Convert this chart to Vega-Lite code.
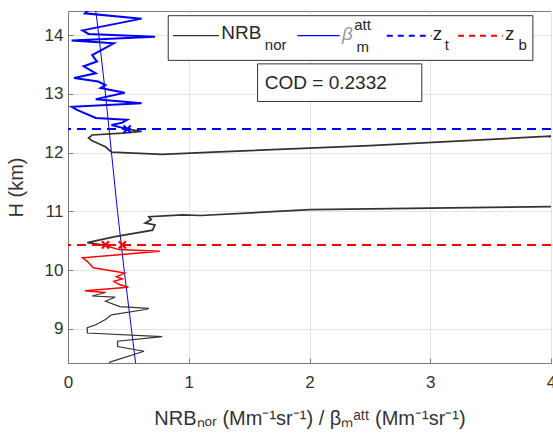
{
  "$schema": "https://vega.github.io/schema/vega-lite/v6.json",
  "width": 483,
  "height": 352,
  "autosize": {"type": "none"},
  "padding": {"left": 68, "top": 11, "right": 2, "bottom": 80},
  "background": "white",
  "config": {
    "font": "Liberation Sans",
    "view": {"stroke": "#7a7a7a", "strokeWidth": 1},
    "axis": {
      "domainColor": "#7a7a7a",
      "tickColor": "#7a7a7a",
      "gridColor": "#e3e3e3",
      "labelColor": "#333333",
      "titleColor": "#333333",
      "labelFont": "Liberation Sans",
      "titleFont": "Liberation Sans",
      "labelFontSize": 17,
      "titleFontSize": 20,
      "titleFontWeight": "normal",
      "tickSize": -5,
      "labelFlush": false
    }
  },
  "datasets": {
    "nrb": [
      {"i": 1, "x": 0.34, "y": 8.43, "seg": "lo"},
      {"i": 2, "x": 0.63, "y": 8.62, "seg": "lo"},
      {"i": 3, "x": 0.41, "y": 8.70, "seg": "lo"},
      {"i": 4, "x": 0.41, "y": 8.79, "seg": "lo"},
      {"i": 5, "x": 0.78, "y": 8.87, "seg": "lo"},
      {"i": 6, "x": 0.16, "y": 8.93, "seg": "lo"},
      {"i": 7, "x": 0.16, "y": 9.02, "seg": "lo"},
      {"i": 8, "x": 0.23, "y": 9.07, "seg": "lo"},
      {"i": 9, "x": 0.31, "y": 9.16, "seg": "lo"},
      {"i": 10, "x": 0.36, "y": 9.24, "seg": "lo"},
      {"i": 11, "x": 0.64, "y": 9.33, "seg": "lo"},
      {"i": 12, "x": 0.67, "y": 9.35, "seg": "lo"},
      {"i": 13, "x": 0.43, "y": 9.38, "seg": "lo"},
      {"i": 14, "x": 0.31, "y": 9.47, "seg": "lo"},
      {"i": 15, "x": 0.39, "y": 9.54, "seg": "lo"},
      {"i": 16, "x": 0.20, "y": 9.56, "seg": "lo"},
      {"i": 17, "x": 0.31, "y": 9.62, "seg": "lo"},
      {"i": 17, "x": 0.31, "y": 9.62, "seg": "red"},
      {"i": 18, "x": 0.14, "y": 9.65, "seg": "red"},
      {"i": 19, "x": 0.50, "y": 9.71, "seg": "red"},
      {"i": 20, "x": 0.42, "y": 9.76, "seg": "red"},
      {"i": 21, "x": 0.38, "y": 9.81, "seg": "red"},
      {"i": 22, "x": 0.45, "y": 9.85, "seg": "red"},
      {"i": 23, "x": 0.40, "y": 9.89, "seg": "red"},
      {"i": 24, "x": 0.47, "y": 9.95, "seg": "red"},
      {"i": 25, "x": 0.21, "y": 10.04, "seg": "red"},
      {"i": 26, "x": 0.16, "y": 10.15, "seg": "red"},
      {"i": 27, "x": 0.12, "y": 10.21, "seg": "red"},
      {"i": 28, "x": 0.76, "y": 10.32, "seg": "red"},
      {"i": 29, "x": 0.42, "y": 10.35, "seg": "red"},
      {"i": 30, "x": 0.31, "y": 10.42, "seg": "red"},
      {"i": 30, "x": 0.31, "y": 10.42, "seg": "mid"},
      {"i": 31, "x": 0.16, "y": 10.47, "seg": "mid"},
      {"i": 32, "x": 0.39, "y": 10.57, "seg": "mid"},
      {"i": 33, "x": 0.70, "y": 10.68, "seg": "mid"},
      {"i": 34, "x": 0.72, "y": 10.77, "seg": "mid"},
      {"i": 35, "x": 0.64, "y": 10.80, "seg": "mid"},
      {"i": 36, "x": 0.69, "y": 10.86, "seg": "mid"},
      {"i": 37, "x": 0.67, "y": 10.91, "seg": "mid"},
      {"i": 38, "x": 0.95, "y": 10.94, "seg": "mid"},
      {"i": 39, "x": 1.10, "y": 10.93, "seg": "mid"},
      {"i": 40, "x": 2.0, "y": 11.03, "seg": "mid"},
      {"i": 41, "x": 4.0, "y": 11.08, "seg": "mid"},
      {"i": 42, "x": 7.0, "y": 11.2, "seg": "mid"},
      {"i": 43, "x": 7.0, "y": 12.2, "seg": "mid"},
      {"i": 44, "x": 4.0, "y": 12.28, "seg": "mid"},
      {"i": 45, "x": 2.5, "y": 12.12, "seg": "mid"},
      {"i": 46, "x": 1.2, "y": 12.01, "seg": "mid"},
      {"i": 47, "x": 0.78, "y": 11.97, "seg": "mid"},
      {"i": 48, "x": 0.36, "y": 12.01, "seg": "mid"},
      {"i": 49, "x": 0.31, "y": 12.10, "seg": "mid"},
      {"i": 50, "x": 0.20, "y": 12.20, "seg": "mid"},
      {"i": 51, "x": 0.17, "y": 12.25, "seg": "mid"},
      {"i": 52, "x": 0.20, "y": 12.30, "seg": "mid"},
      {"i": 53, "x": 0.45, "y": 12.33, "seg": "mid"},
      {"i": 54, "x": 0.61, "y": 12.36, "seg": "mid"},
      {"i": 55, "x": 0.49, "y": 12.40, "seg": "mid"},
      {"i": 55, "x": 0.49, "y": 12.40, "seg": "blue"},
      {"i": 56, "x": 0.36, "y": 12.47, "seg": "blue"},
      {"i": 57, "x": 0.45, "y": 12.51, "seg": "blue"},
      {"i": 58, "x": 0.49, "y": 12.56, "seg": "blue"},
      {"i": 59, "x": 0.23, "y": 12.59, "seg": "blue"},
      {"i": 60, "x": 0.07, "y": 12.73, "seg": "blue"},
      {"i": 61, "x": 0.03, "y": 12.78, "seg": "blue"},
      {"i": 62, "x": 0.61, "y": 12.84, "seg": "blue"},
      {"i": 63, "x": 0.23, "y": 12.91, "seg": "blue"},
      {"i": 64, "x": 0.47, "y": 13.02, "seg": "blue"},
      {"i": 65, "x": 0.27, "y": 13.10, "seg": "blue"},
      {"i": 66, "x": 0.31, "y": 13.15, "seg": "blue"},
      {"i": 67, "x": 0.25, "y": 13.21, "seg": "blue"},
      {"i": 68, "x": 0.05, "y": 13.27, "seg": "blue"},
      {"i": 69, "x": 0.23, "y": 13.35, "seg": "blue"},
      {"i": 70, "x": 0.13, "y": 13.47, "seg": "blue"},
      {"i": 71, "x": 0.24, "y": 13.55, "seg": "blue"},
      {"i": 72, "x": 0.20, "y": 13.66, "seg": "blue"},
      {"i": 73, "x": 0.28, "y": 13.75, "seg": "blue"},
      {"i": 74, "x": 0.38, "y": 13.86, "seg": "blue"},
      {"i": 75, "x": 0.03, "y": 13.91, "seg": "blue"},
      {"i": 76, "x": 0.72, "y": 13.97, "seg": "blue"},
      {"i": 77, "x": 0.17, "y": 14.02, "seg": "blue"},
      {"i": 78, "x": 0.12, "y": 14.08, "seg": "blue"},
      {"i": 79, "x": 0.61, "y": 14.28, "seg": "blue"},
      {"i": 80, "x": 0.14, "y": 14.37, "seg": "blue"},
      {"i": 81, "x": 0.18, "y": 14.45, "seg": "blue"}
    ],
    "beta": [
      {"x": 0.56, "y": 8.42},
      {"x": 0.525, "y": 9.0},
      {"x": 0.465, "y": 10.0},
      {"x": 0.41, "y": 11.0},
      {"x": 0.36, "y": 12.0},
      {"x": 0.31, "y": 13.0},
      {"x": 0.255, "y": 14.0},
      {"x": 0.23, "y": 14.41}
    ],
    "levels": [
      {"y": 12.40, "k": "zt"},
      {"y": 10.43, "k": "zb"}
    ],
    "marks": [
      {"x": 0.49, "y": 12.40, "k": "zt"},
      {"x": 0.31, "y": 10.43, "k": "zb"},
      {"x": 0.45, "y": 10.43, "k": "zb"}
    ],
    "boxes": [
      {"x": 0.83, "x2": 3.85, "y": 13.57, "y2": 14.33},
      {"x": 1.57, "x2": 2.93, "y": 12.87, "y2": 13.51}
    ],
    "samples": [
      {"x": 0.87, "x2": 1.25, "y": 13.99, "k": "nrb"},
      {"x": 1.90, "x2": 2.25, "y": 13.99, "k": "beta"},
      {"x": 2.64, "x2": 3.01, "y": 13.99, "k": "zt"},
      {"x": 3.23, "x2": 3.60, "y": 13.99, "k": "zb"}
    ],
    "bigtext": [
      {"x": 1.27, "y": 14.03, "t": "NRB"},
      {"x": 3.02, "y": 14.02, "t": "z"},
      {"x": 3.62, "y": 14.02, "t": "z"},
      {"x": 1.63, "y": 13.19, "t": "COD = 0.2332"}
    ],
    "smalltext": [
      {"x": 1.63, "y": 13.835, "t": "nor"},
      {"x": 2.37, "y": 14.18, "t": "att"},
      {"x": 2.39, "y": 13.80, "t": "m"},
      {"x": 3.12, "y": 13.83, "t": "t"},
      {"x": 3.73, "y": 13.83, "t": "b"}
    ],
    "greek": [
      {"x": 2.27, "y": 14.02, "t": "β"}
    ]
  },
  "layer": [
    {
      "data": {"name": "beta"},
      "mark": {"type": "line", "color": "#0000ff", "strokeWidth": 1, "clip": true},
      "encoding": {
        "x": {"field": "x", "type": "quantitative", "scale": {"domain": [0, 4], "nice": false}, "axis": {"values": [0, 1, 2, 3, 4], "format": "d", "title": "NRBₙₒᵣ (Mm⁻¹sr⁻¹) / βₘᵃᵗᵗ (Mm⁻¹sr⁻¹)", "grid": true, "labelPadding": 16, "titlePadding": 18}},
        "y": {"field": "y", "type": "quantitative", "scale": {"domain": [8.42, 14.41], "nice": false, "zero": false}, "axis": {"values": [9, 10, 11, 12, 13, 14], "format": "d", "title": "H (km)", "grid": true, "labelPadding": 10, "titlePadding": 18}},
        "order": {"field": "y", "type": "quantitative"}
      }
    },
    {
      "data": {"name": "nrb"},
      "mark": {"type": "line", "clip": true},
      "encoding": {
        "x": {"field": "x", "type": "quantitative"},
        "y": {"field": "y", "type": "quantitative"},
        "order": {"field": "i", "type": "quantitative"},
        "detail": {"field": "seg", "type": "nominal"},
        "color": {"field": "seg", "type": "nominal", "scale": {"domain": ["lo", "red", "mid", "blue", "nrb", "beta", "zt", "zb"], "range": ["#333333", "#ff0000", "#333333", "#0000ff", "#333333", "#0000ff", "#0000ff", "#ff0000"]}, "legend": null},
        "strokeWidth": {"field": "seg", "type": "nominal", "scale": {"domain": ["lo", "red", "mid", "blue"], "range": [1.2, 2, 1.2, 2]}, "legend": null}
      }
    },
    {
      "data": {"name": "levels"},
      "mark": {"type": "rule", "strokeWidth": 2, "strokeDash": [9, 6]},
      "encoding": {
        "y": {"field": "y", "type": "quantitative"},
        "color": {"field": "k", "type": "nominal", "scale": {"domain": ["lo", "red", "mid", "blue", "nrb", "beta", "zt", "zb"], "range": ["#333333", "#ff0000", "#333333", "#0000ff", "#333333", "#0000ff", "#0000ff", "#ff0000"]}, "legend": null}
      }
    },
    {
      "data": {"name": "marks"},
      "mark": {"type": "point", "shape": "M-1,-1L1,1M-1,1L1,-1", "filled": false, "size": 50, "strokeWidth": 2.2, "opacity": 1},
      "encoding": {
        "x": {"field": "x", "type": "quantitative"},
        "y": {"field": "y", "type": "quantitative"},
        "color": {"field": "k", "type": "nominal", "scale": {"domain": ["lo", "red", "mid", "blue", "nrb", "beta", "zt", "zb"], "range": ["#333333", "#ff0000", "#333333", "#0000ff", "#333333", "#0000ff", "#0000ff", "#ff0000"]}, "legend": null}
      }
    },
    {
      "data": {"name": "boxes"},
      "mark": {"type": "rect", "fill": "white", "stroke": "#333333", "strokeWidth": 1},
      "encoding": {
        "x": {"field": "x", "type": "quantitative"},
        "x2": {"field": "x2"},
        "y": {"field": "y", "type": "quantitative"},
        "y2": {"field": "y2"}
      }
    },
    {
      "data": {"name": "samples"},
      "transform": [{"filter": "datum.k == 'nrb' || datum.k == 'beta'"}],
      "mark": {"type": "rule", "strokeWidth": 1.2},
      "encoding": {
        "x": {"field": "x", "type": "quantitative"},
        "x2": {"field": "x2"},
        "y": {"field": "y", "type": "quantitative"},
        "color": {"field": "k", "type": "nominal", "scale": {"domain": ["lo", "red", "mid", "blue", "nrb", "beta", "zt", "zb"], "range": ["#333333", "#ff0000", "#333333", "#0000ff", "#333333", "#0000ff", "#0000ff", "#ff0000"]}, "legend": null}
      }
    },
    {
      "data": {"name": "samples"},
      "transform": [{"filter": "datum.k == 'zt' || datum.k == 'zb'"}],
      "mark": {"type": "rule", "strokeWidth": 2, "strokeDash": [6, 5]},
      "encoding": {
        "x": {"field": "x", "type": "quantitative"},
        "x2": {"field": "x2"},
        "y": {"field": "y", "type": "quantitative"},
        "color": {"field": "k", "type": "nominal", "scale": {"domain": ["lo", "red", "mid", "blue", "nrb", "beta", "zt", "zb"], "range": ["#333333", "#ff0000", "#333333", "#0000ff", "#333333", "#0000ff", "#0000ff", "#ff0000"]}, "legend": null}
      }
    },
    {
      "data": {"name": "bigtext"},
      "mark": {"type": "text", "align": "left", "baseline": "middle", "fontSize": 19, "color": "#262626", "font": "Liberation Sans"},
      "encoding": {
        "x": {"field": "x", "type": "quantitative"},
        "y": {"field": "y", "type": "quantitative"},
        "text": {"field": "t"}
      }
    },
    {
      "data": {"name": "smalltext"},
      "mark": {"type": "text", "align": "left", "baseline": "middle", "fontSize": 15, "color": "#262626", "font": "Liberation Sans"},
      "encoding": {
        "x": {"field": "x", "type": "quantitative"},
        "y": {"field": "y", "type": "quantitative"},
        "text": {"field": "t"}
      }
    },
    {
      "data": {"name": "greek"},
      "mark": {"type": "text", "align": "left", "baseline": "middle", "fontSize": 19, "fontStyle": "italic", "color": "#9a9a9a", "font": "Liberation Sans"},
      "encoding": {
        "x": {"field": "x", "type": "quantitative"},
        "y": {"field": "y", "type": "quantitative"},
        "text": {"field": "t"}
      }
    }
  ]
}
